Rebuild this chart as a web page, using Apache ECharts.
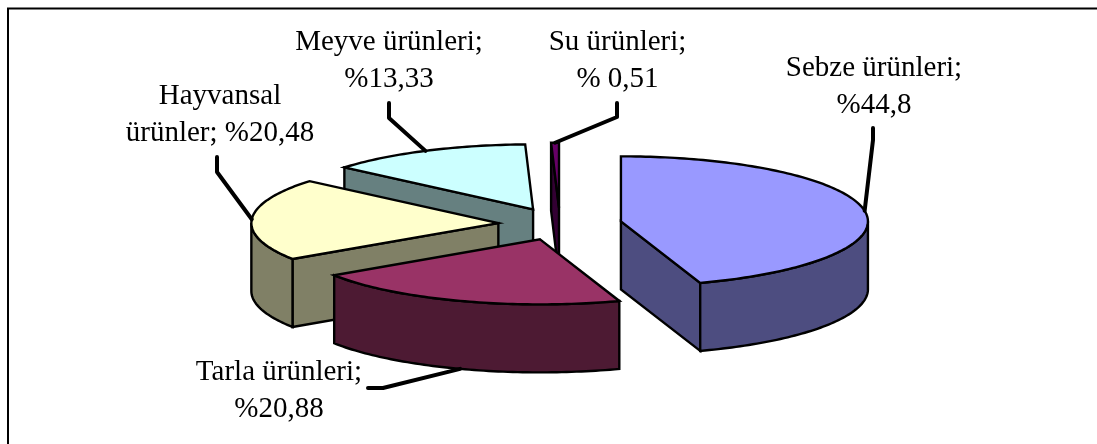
<!DOCTYPE html>
<html><head><meta charset="utf-8">
<style>html,body{margin:0;padding:0;background:#fff}#c{width:1097px;height:444px}</style>
<script src="https://cdn.jsdelivr.net/npm/echarts@6/dist/echarts.min.js"></script>
</head><body><div id="c"></div>
<script>
// Data, clockwise from 12 o'clock
const categories = ['Sebze ürünleri', 'Tarla ürünleri', 'Hayvansal ürünler', 'Meyve ürünleri', 'Su ürünleri'];
const shares = [44.8, 20.88, 20.48, 13.33, 0.51];
const labelTexts = ['Sebze ürünleri;\n%44,8', 'Tarla ürünleri;\n%20,88', 'Hayvansal\nürünler; %20,48', 'Meyve ürünleri;\n%13,33', 'Su ürünleri;\n% 0,51'];

// Style
const topColors = ['#9999FF', '#993366', '#FFFFCC', '#CCFFFF', '#660066'];
const wallColors = ['#4D4D80', '#4D1A33', '#808066', '#668080', '#330033'];
const paintOrder = [4, 3, 2, 0, 1];

// Layout of the tilted pie
const CX = 560, CY = 224, RX = 247, RY = 65, DEPTH = 68, EXPLODE = 0.25;
const leaderBends = [
  [[873, 140], [873, 128]],
  [[383, 388], [368, 388]],
  [[217, 172], [217, 157]],
  [[389, 118], [389, 103]],
  [[617, 117], [617, 103]]
];
const labelCenters = [[874, 87], [279, 391], [220, 115], [389, 61], [617.5, 61]];
const LEADER_FROM_WALL_BOTTOM = [false, true, false, false, false];

// Derived geometry
const total = shares.reduce((a, b) => a + b, 0);
const slices = [];
let acc = 0;
shares.forEach((v, i) => {
  const a0 = acc / total * 2 * Math.PI;
  acc += v;
  const a1 = acc / total * 2 * Math.PI;
  const mid = (a0 + a1) / 2;
  slices.push({ a0, a1, mid, ax: CX + Math.sin(mid) * RX * EXPLODE, ay: CY - Math.cos(mid) * RY * EXPLODE });
});
function rim(s, a, dz) { return [s.ax + Math.sin(a) * RX, s.ay - Math.cos(a) * RY + (dz || 0)]; }
function poly(points, fill, z2) {
  return { type: 'polygon', z2, shape: { points }, style: { fill, stroke: '#000', lineWidth: 2.4, lineJoin: 'miter' } };
}
function arcPoints(s, from, to, dz) {
  const n = Math.max(2, Math.ceil((to - from) / 0.02));
  const out = [];
  for (let k = 0; k <= n; k++) out.push(rim(s, from + (to - from) * k / n, dz));
  return out;
}
function sliceGroup(i) {
  const s = slices[i], kids = [];
  const apex = [s.ax, s.ay], apexLow = [s.ax, s.ay + DEPTH];
  if (Math.sin(s.a0) < -1e-6) kids.push(poly([apex, rim(s, s.a0), rim(s, s.a0, DEPTH), apexLow], wallColors[i], 1));
  if (Math.sin(s.a1) > 1e-6) kids.push(poly([apex, rim(s, s.a1), rim(s, s.a1, DEPTH), apexLow], wallColors[i], 1));
  const f0 = Math.max(s.a0, Math.PI / 2), f1 = Math.min(s.a1, 3 * Math.PI / 2);
  if (f1 > f0) kids.push(poly(arcPoints(s, f0, f1, 0).concat(arcPoints(s, f0, f1, DEPTH).reverse()), wallColors[i], 2));
  kids.push(poly([apex].concat(arcPoints(s, s.a0, s.a1, 0)), topColors[i], 3));
  return { type: 'group', children: kids };
}
function leaderLabel(i) {
  const s = slices[i];
  const anchor = rim(s, s.mid, LEADER_FROM_WALL_BOTTOM[i] ? DEPTH : 0);
  return {
    type: 'group',
    children: [
      { type: 'polyline', shape: { points: [anchor].concat(leaderBends[i]) },
        style: { fill: null, stroke: '#000', lineWidth: 4, lineCap: 'round', lineJoin: 'round' } },
      { type: 'text', style: { x: labelCenters[i][0], y: labelCenters[i][1], text: labelTexts[i], align: 'center', verticalAlign: 'middle',
          fontFamily: '"Liberation Serif", serif', fontSize: 29, lineHeight: 37, fill: '#000' } }
    ]
  };
}
const chart = echarts.init(document.getElementById('c'), null, { renderer: 'canvas' });
chart.setOption({
  animation: false,
  backgroundColor: '#fff',
  graphic: [
    { type: 'polyline', shape: { points: [[8, 444], [8, 8.5], [1097, 8.5]] }, style: { fill: null, stroke: '#000', lineWidth: 2 } }
  ],
  series: [
    { type: 'custom', coordinateSystem: 'none', z: 2, silent: true, clip: false,
      data: paintOrder.map(i => ({ name: categories[i], value: [shares[i], i] })),
      renderItem: (p, api) => sliceGroup(api.value(1)) },
    { type: 'custom', coordinateSystem: 'none', z: 3, silent: true, clip: false,
      data: categories.map((c, i) => ({ name: c, value: [shares[i], i] })),
      renderItem: (p, api) => leaderLabel(api.value(1)) }
  ]
});
</script></body></html>
